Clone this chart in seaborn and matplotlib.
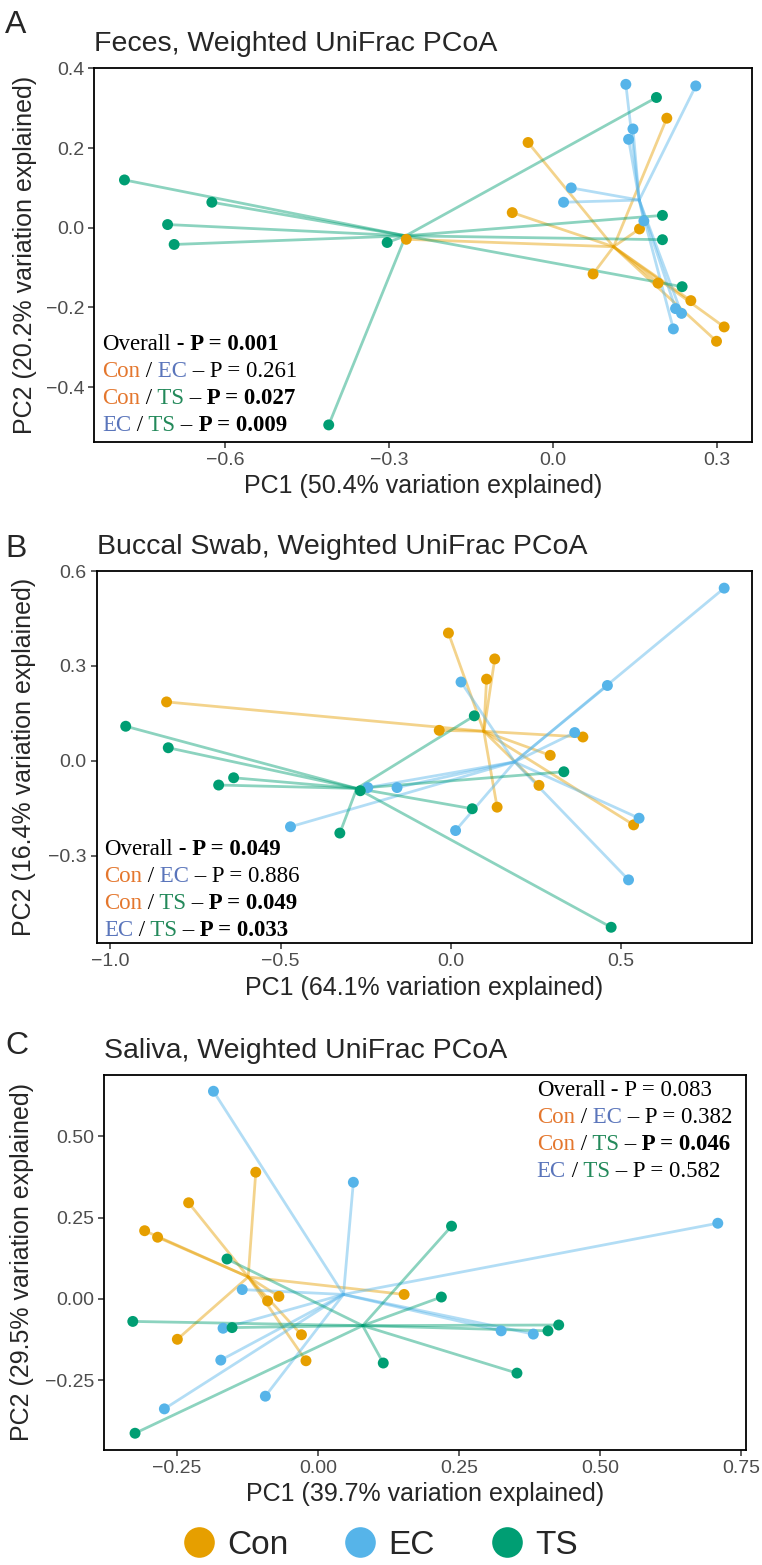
import numpy as np
import pandas as pd
import seaborn as sns
import matplotlib.pyplot as plt
from matplotlib.ticker import FixedLocator, FuncFormatter
from matplotlib.offsetbox import TextArea, HPacker, VPacker, AnchoredOffsetbox

groups = ["Con", "EC", "TS"]
palette = {"Con": "#E69F00", "EC": "#56B4E9", "TS": "#009E73"}
text_colors = {"Con": "#E4772E", "EC": "#5A75BB", "TS": "#23895A"}

# Panel A - feces
feces_con_x = [-0.268, -0.045, -0.074, 0.074, 0.159, 0.209, 0.193, 0.253, 0.314, 0.300]
feces_con_y = [-0.029, 0.214, 0.038, -0.116, -0.003, 0.275, -0.139, -0.183, -0.249, -0.285]
feces_ec_x = [0.134, 0.262, 0.147, 0.139, 0.034, 0.020, 0.167, 0.225, 0.236, 0.221]
feces_ec_y = [0.360, 0.356, 0.248, 0.222, 0.100, 0.064, 0.017, -0.203, -0.215, -0.254]
feces_ts_x = [-0.784, -0.624, -0.705, -0.693, -0.303, -0.410, 0.190, 0.201, 0.201, 0.237]
feces_ts_y = [0.120, 0.064, 0.008, -0.042, -0.037, -0.495, 0.327, 0.031, -0.030, -0.148]

# Panel B - buccal swab
buccal_con_x = [-0.007, 0.129, 0.105, -0.835, -0.034, 0.388, 0.292, 0.259, 0.136, 0.537]
buccal_con_y = [0.404, 0.322, 0.258, 0.186, 0.096, 0.075, 0.017, -0.078, -0.147, -0.203]
buccal_ec_x = [0.803, 0.030, 0.460, 0.364, -0.244, -0.158, -0.471, 0.014, 0.553, 0.522]
buccal_ec_y = [0.546, 0.249, 0.238, 0.089, -0.085, -0.085, -0.209, -0.221, -0.182, -0.377]
buccal_ts_x = [-0.955, -0.830, -0.638, -0.682, -0.266, -0.326, 0.069, 0.063, 0.332, 0.471]
buccal_ts_y = [0.109, 0.041, -0.054, -0.077, -0.095, -0.229, 0.142, -0.152, -0.035, -0.527]

# Panel C - saliva
saliva_con_x = [-0.110, -0.229, -0.307, -0.284, 0.153, -0.069, -0.089, -0.029, -0.249, -0.021]
saliva_con_y = [0.390, 0.296, 0.210, 0.190, 0.014, 0.008, -0.006, -0.110, -0.124, -0.190]
saliva_ec_x = [-0.185, 0.063, 0.709, -0.134, -0.168, -0.172, -0.093, -0.272, 0.325, 0.382]
saliva_ec_y = [0.639, 0.359, 0.233, 0.029, -0.090, -0.188, -0.299, -0.338, -0.098, -0.108]
saliva_ts_x = [0.237, -0.161, 0.219, -0.328, -0.152, 0.427, 0.408, 0.116, 0.353, -0.324]
saliva_ts_y = [0.224, 0.123, 0.006, -0.069, -0.088, -0.080, -0.098, -0.197, -0.228, -0.413]

# PERMANOVA p-values: overall, Con/EC, Con/TS, EC/TS
feces_p = ["0.001", "0.261", "0.027", "0.009"]
feces_sig = [True, False, True, True]
buccal_p = ["0.049", "0.886", "0.049", "0.033"]
buccal_sig = [True, False, True, True]
saliva_p = ["0.083", "0.382", "0.046", "0.582"]
saliva_sig = [False, False, True, False]

sns.set_theme(style="ticks")
plt.rcParams["font.family"] = ["Liberation Sans", "DejaVu Sans"]
plt.rcParams.update({
    "axes.edgecolor": "black",
    "axes.linewidth": 1.3,
    "xtick.major.size": 4,
    "ytick.major.size": 4,
    "xtick.major.width": 1.1,
    "ytick.major.width": 1.1,
    "xtick.color": "#333333",
    "ytick.color": "#333333",
    "xtick.labelcolor": "#4D4D4D",
    "ytick.labelcolor": "#4D4D4D",
    "xtick.labelsize": 14,
    "ytick.labelsize": 14,
    "xtick.major.pad": 3.2,
    "ytick.major.pad": 3.2,
})

serif = ["Liberation Serif", "DejaVu Serif"]


def make_frames(xs, ys):
    pts = []
    segs = []
    seg_id = 0
    for g in groups:
        # spider lines go to the group centroid
        cx, cy = np.mean(xs[g]), np.mean(ys[g])
        for x, y in zip(xs[g], ys[g]):
            pts.append({"x": x, "y": y, "group": g})
            segs.append({"x": x, "y": y, "group": g, "seg": seg_id})
            segs.append({"x": cx, "y": cy, "group": g, "seg": seg_id})
            seg_id += 1
    return pd.DataFrame(pts), pd.DataFrame(segs)


def piece(s, color="black", bold=False):
    return TextArea(s, textprops=dict(color=color, family=serif, size=16.5,
                                      fontweight="bold" if bold else "normal"))


def add_stats(ax, pvals, sig, loc, anchor):
    pairs = [("Con", "EC"), ("Con", "TS"), ("EC", "TS")]
    rows = [HPacker(children=[piece("Overall"), piece(" - P = " + pvals[0], bold=sig[0])],
                    align="baseline", pad=0, sep=0)]
    for (g1, g2), p, b in zip(pairs, pvals[1:], sig[1:]):
        rows.append(HPacker(children=[piece(g1, text_colors[g1]), piece(" /"),
                                      piece(" " + g2, text_colors[g2]), piece(" \u2013"),
                                      piece(" P = " + p, bold=b)],
                            align="baseline", pad=0, sep=0))
    box = VPacker(children=rows, align="left", pad=0, sep=4.2)
    ab = AnchoredOffsetbox(loc=loc, child=box, pad=0, borderpad=0, frameon=False,
                           bbox_to_anchor=anchor, bbox_transform=ax.transAxes)
    ax.add_artist(ab)


def fmt(decimals):
    return FuncFormatter(lambda v, pos: f"{v:.{decimals}f}".replace("-", "\u2212"))


panels = [
    dict(xs={"Con": feces_con_x, "EC": feces_ec_x, "TS": feces_ts_x},
         ys={"Con": feces_con_y, "EC": feces_ec_y, "TS": feces_ts_y},
         rect=[0.1239, 0.7178, 0.863, 0.239], xlim=(-0.839, 0.365), ylim=(-0.537, 0.402),
         xticks=[-0.6, -0.3, 0.0, 0.3], yticks=[-0.4, -0.2, 0.0, 0.2, 0.4], dec=1,
         title="Feces, Weighted UniFrac PCoA", letter="A", letter_y=33,
         xlab="PC1 (50.4% variation explained)", ylab="PC2 (20.2% variation explained)",
         ylab_x=-0.087, xlab_y=-0.086,
         p=feces_p, sig=feces_sig, loc="lower left", anchor=(0.0116, 0.016)),
    dict(xs={"Con": buccal_con_x, "EC": buccal_ec_x, "TS": buccal_ts_x},
         ys={"Con": buccal_con_y, "EC": buccal_ec_y, "TS": buccal_ts_y},
         rect=[0.127, 0.3974, 0.860, 0.2377], xlim=(-1.040, 0.885), ylim=(-0.577, 0.600),
         xticks=[-1.0, -0.5, 0.0, 0.5], yticks=[-0.3, 0.0, 0.3, 0.6], dec=1,
         title="Buccal Swab, Weighted UniFrac PCoA", letter="B", letter_y=557,
         xlab="PC1 (64.1% variation explained)", ylab="PC2 (16.4% variation explained)",
         ylab_x=-0.092, xlab_y=-0.089,
         p=buccal_p, sig=buccal_sig, loc="lower left", anchor=(0.011, 0.006)),
    dict(xs={"Con": saliva_con_x, "EC": saliva_ec_x, "TS": saliva_ts_x},
         ys={"Con": saliva_con_y, "EC": saliva_ec_y, "TS": saliva_ts_y},
         rect=[0.1365, 0.0738, 0.8425, 0.2393], xlim=(-0.379, 0.759), ylim=(-0.463, 0.689),
         xticks=[-0.25, 0.0, 0.25, 0.5, 0.75], yticks=[-0.25, 0.0, 0.25, 0.5], dec=2,
         title="Saliva, Weighted UniFrac PCoA", letter="C", letter_y=1054,
         xlab="PC1 (39.7% variation explained)", ylab="PC2 (29.5% variation explained)",
         ylab_x=-0.109, xlab_y=-0.087,
         p=saliva_p, sig=saliva_sig, loc="upper left", anchor=(0.674, 0.986)),
]

fig = plt.figure(figsize=(7.62, 15.65), dpi=100)

for i, cfg in enumerate(panels):
    ax = fig.add_axes(cfg["rect"])
    pts, segs = make_frames(cfg["xs"], cfg["ys"])
    sns.lineplot(data=segs, x="x", y="y", hue="group", units="seg", estimator=None,
                 sort=False, palette=palette, hue_order=groups, alpha=0.45,
                 linewidth=2.0, legend=False, ax=ax)
    last = i == len(panels) - 1
    sns.scatterplot(data=pts, x="x", y="y", hue="group", palette=palette,
                    hue_order=groups, s=62, linewidth=0, alpha=1,
                    legend=last, ax=ax, zorder=3)
    ax.set_xlim(cfg["xlim"])
    ax.set_ylim(cfg["ylim"])
    ax.xaxis.set_major_locator(FixedLocator(cfg["xticks"]))
    ax.yaxis.set_major_locator(FixedLocator(cfg["yticks"]))
    ax.xaxis.set_major_formatter(fmt(cfg["dec"]))
    ax.yaxis.set_major_formatter(fmt(cfg["dec"]))
    ax.set_xlabel(cfg["xlab"], fontsize=18)
    ax.set_ylabel(cfg["ylab"], fontsize=18)
    ax.yaxis.set_label_coords(cfg["ylab_x"], 0.5)
    ax.xaxis.set_label_coords(0.5, cfg["xlab_y"])
    ax.set_title(cfg["title"], loc="left", fontsize=20.5, pad=12)
    fig.text(5 / 762, 1 - cfg["letter_y"] / 1565, cfg["letter"], fontsize=23,
             ha="left", va="baseline")
    add_stats(ax, cfg["p"], cfg["sig"], cfg["loc"], cfg["anchor"])
    if last:
        sns.move_legend(ax, "center", bbox_to_anchor=(0.431, -0.255), ncol=3,
                        frameon=False, title=None, markerscale=2.8, fontsize=24,
                        handlelength=0.9, handletextpad=0.4, columnspacing=1.7)

fig.savefig("out.png", dpi=100)
